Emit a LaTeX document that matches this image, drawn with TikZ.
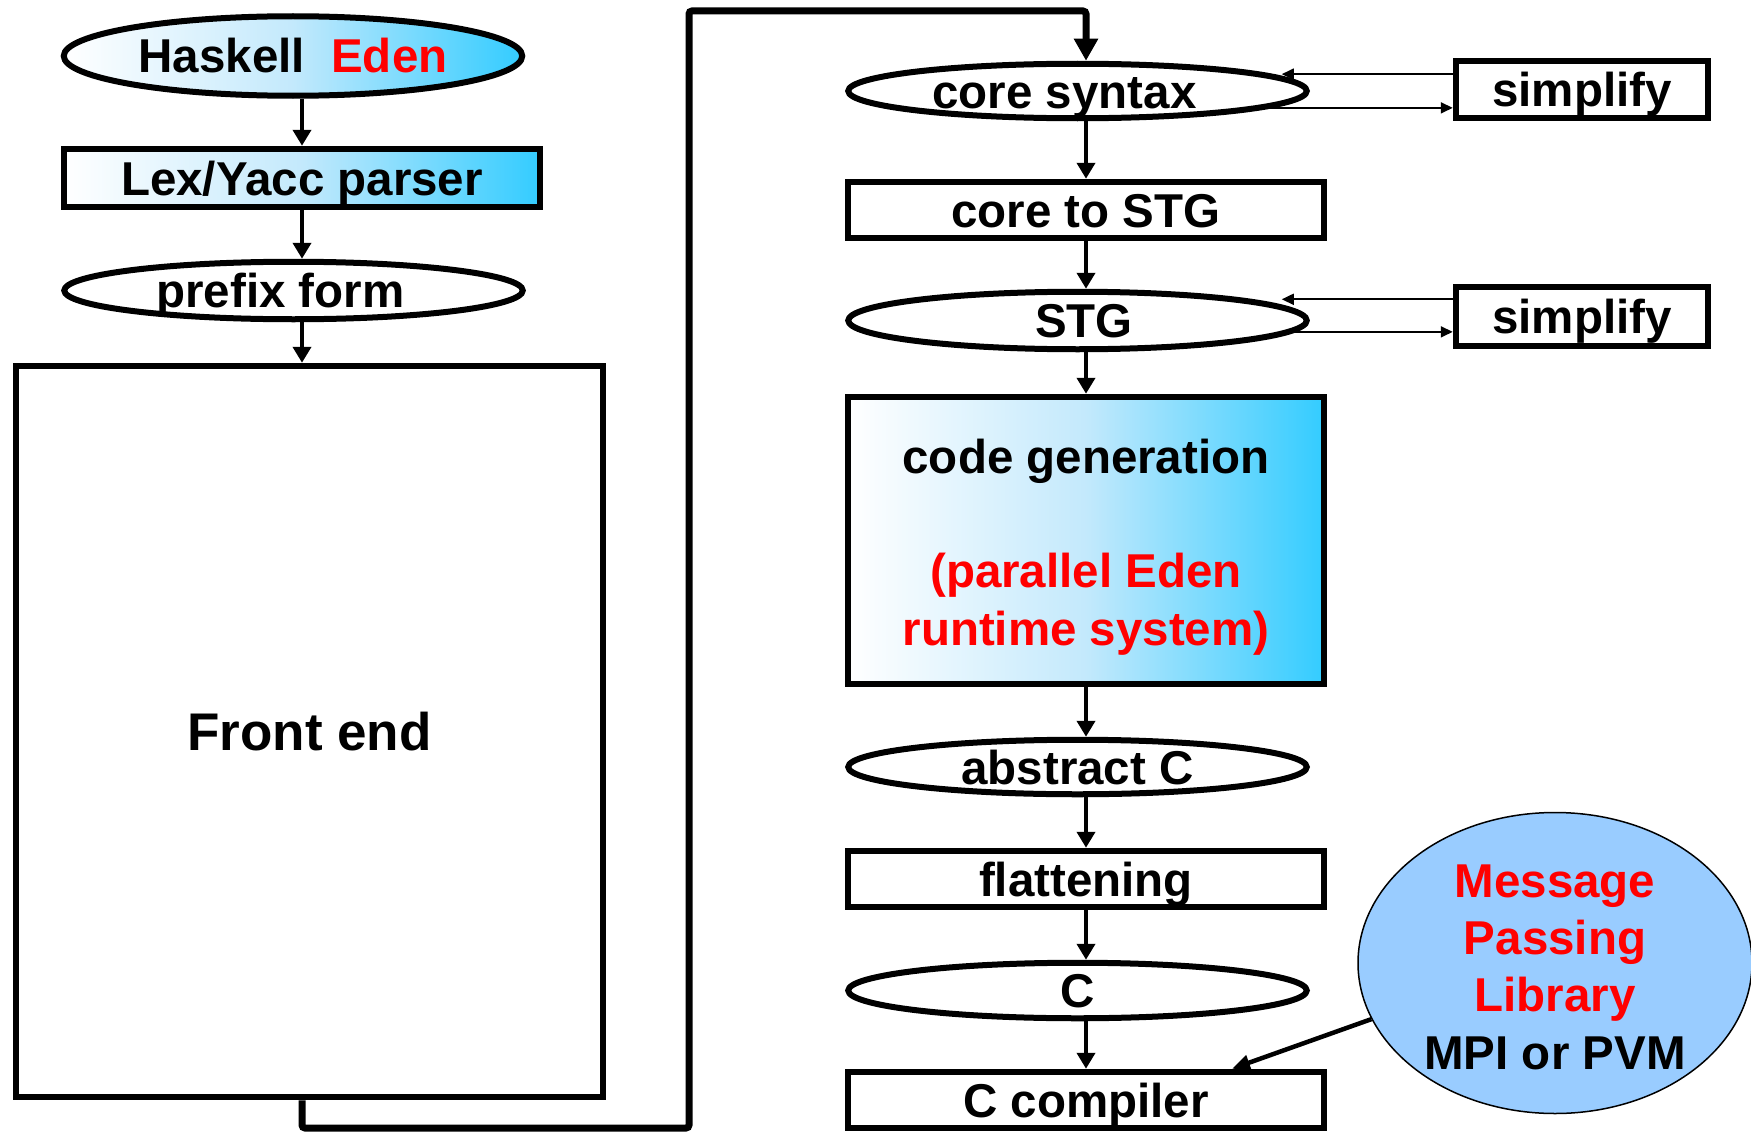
\documentclass[tikz,border=0pt]{standalone}
\usepackage{fontspec}
\setmainfont{Liberation Sans}
\usetikzlibrary{shapes.geometric,arrows.meta}

\definecolor{sky}{RGB}{51,204,255}
\definecolor{skymid}{RGB}{195,233,252}
\definecolor{mplblue}{RGB}{153,204,255}
\definecolor{edenred}{RGB}{255,0,0}

\begin{document}
\begin{tikzpicture}[x=1pt,y=-1pt,
  every node/.style={font=\bfseries\fontsize{47.5}{57.3}\selectfont, inner sep=0pt},
  frame/.style={draw, line width=6pt},
  oval/.style={frame, ellipse, minimum width=458.5pt, text height=34pt, text depth=0pt},
  boxed/.style={frame, rectangle, minimum width=476.5pt, text height=34pt, text depth=0pt},
  shade/.style={left color=white, right color=sky, middle color=skymid},
  flow/.style={line width=4.5pt, -{Triangle[length=16pt,width=18pt]}},
  thinflow/.style={line width=1.8pt, -{Triangle[length=12pt,width=11pt]}},
  loopline/.style={line width=7pt, rounded corners=3pt, -{Triangle[length=22pt,width=23pt]}},
  mplarrow/.style={line width=4.5pt, -{Triangle[length=18pt,width=15pt]}}
]
\useasboundingbox (0,0) rectangle (1751,1132);

% ---- front end column ----
\node[oval, shade, minimum height=79.5pt] (hask) at (293,56) {Haskell\ \ \textcolor{edenred}{Eden}};
\node[boxed, shade, minimum height=58.5pt] (lex) at (302,178) {Lex/Yacc parser};
\node[oval, minimum height=57.5pt] (prefix) at (293.5,290.5) {prefix form\kern26pt};
\node[frame, rectangle, minimum width=587.5pt, minimum height=731.5pt,
      font=\bfseries\fontsize{53}{60}\selectfont, text height=38pt, text depth=0pt]
      (front) at (309.5,731.5) {Front end};

% ---- back end column ----
\node[oval, minimum height=54.5pt] (cs) at (1077.5,91) {core syntax\kern26pt};
\node[boxed, minimum width=252.5pt, minimum height=57.5pt] (simp1) at (1582,89.5) {simplify};
\node[boxed, minimum height=56.5pt] (cts) at (1086,210) {core to STG};
\node[oval, minimum height=57.5pt] (stg) at (1077.5,320.5) {\kern13pt STG};
\node[boxed, minimum width=252.5pt, minimum height=59.5pt] (simp2) at (1582,316.5) {simplify};
\node[frame, rectangle, shade, minimum width=476.5pt, minimum height=287.5pt, align=center]
      (cg) at (1086,540.5) {\rule{0pt}{47pt}code generation\\ \mbox{}\\ \textcolor{edenred}{(parallel Eden}\\
      \textcolor{edenred}{runtime system)}};
\node[oval, minimum height=54.5pt] (absc) at (1077.5,767) {abstract C};
\node[boxed, minimum height=56.5pt] (flat) at (1086,879) {flattening};
\node[oval, minimum height=55.5pt] (cee) at (1077.5,990.5) {C};
\node[boxed, minimum height=56.5pt] (ccomp) at (1086,1100) {C compiler};
\node[draw, ellipse, line width=1.5pt, fill=mplblue, minimum width=394pt, minimum height=301pt,
      inner sep=-40pt, align=center]
      (mpl) at (1555,963) {\rule{0pt}{41pt}\textcolor{edenred}{Message}\\ \textcolor{edenred}{Passing}\\
      \textcolor{edenred}{Library}\\ MPI or PVM};

% ---- connectors ----
\coordinate (lb) at (689,1128);
\coordinate (lt) at (689,11);

\draw[flow] (hask.south -| lex.north) -- (lex.north);
\draw[flow] (lex.south) -- (lex.south |- prefix.north);
\draw[flow] (prefix.south -| lex.south) -- (front.north -| lex.south);
\draw[loopline] (front.south -| lex.south) |- (lb) -- (lt) -| (cs.north -| cts.north);

\draw[flow] (cs.south -| cts.north) -- (cts.north);
\draw[flow] (cts.south) -- (cts.south |- stg.north);
\draw[flow] (stg.south -| cg.north) -- (cg.north);
\draw[flow] (cg.south) -- (cg.south |- absc.north);
\draw[flow] (absc.south -| flat.north) -- (flat.north);
\draw[flow] (flat.south) -- (flat.south |- cee.north);
\draw[flow] (cee.south -| ccomp.north) -- (ccomp.north);

\draw[thinflow, shorten >=-28pt] (cs.5 -| simp1.west) -- (cs.5 -| cs.east);
\draw[thinflow] (cs.-5) -- (cs.-5 -| simp1.west);
\draw[thinflow, shorten >=-28pt] (stg.7 -| simp2.west) -- (stg.7 -| stg.east);
\draw[thinflow] (stg.-3) -- (stg.-3 -| simp2.west);

\draw[mplarrow] (mpl.197) -- ([xshift=146pt]ccomp.north);
\end{tikzpicture}
\end{document}
